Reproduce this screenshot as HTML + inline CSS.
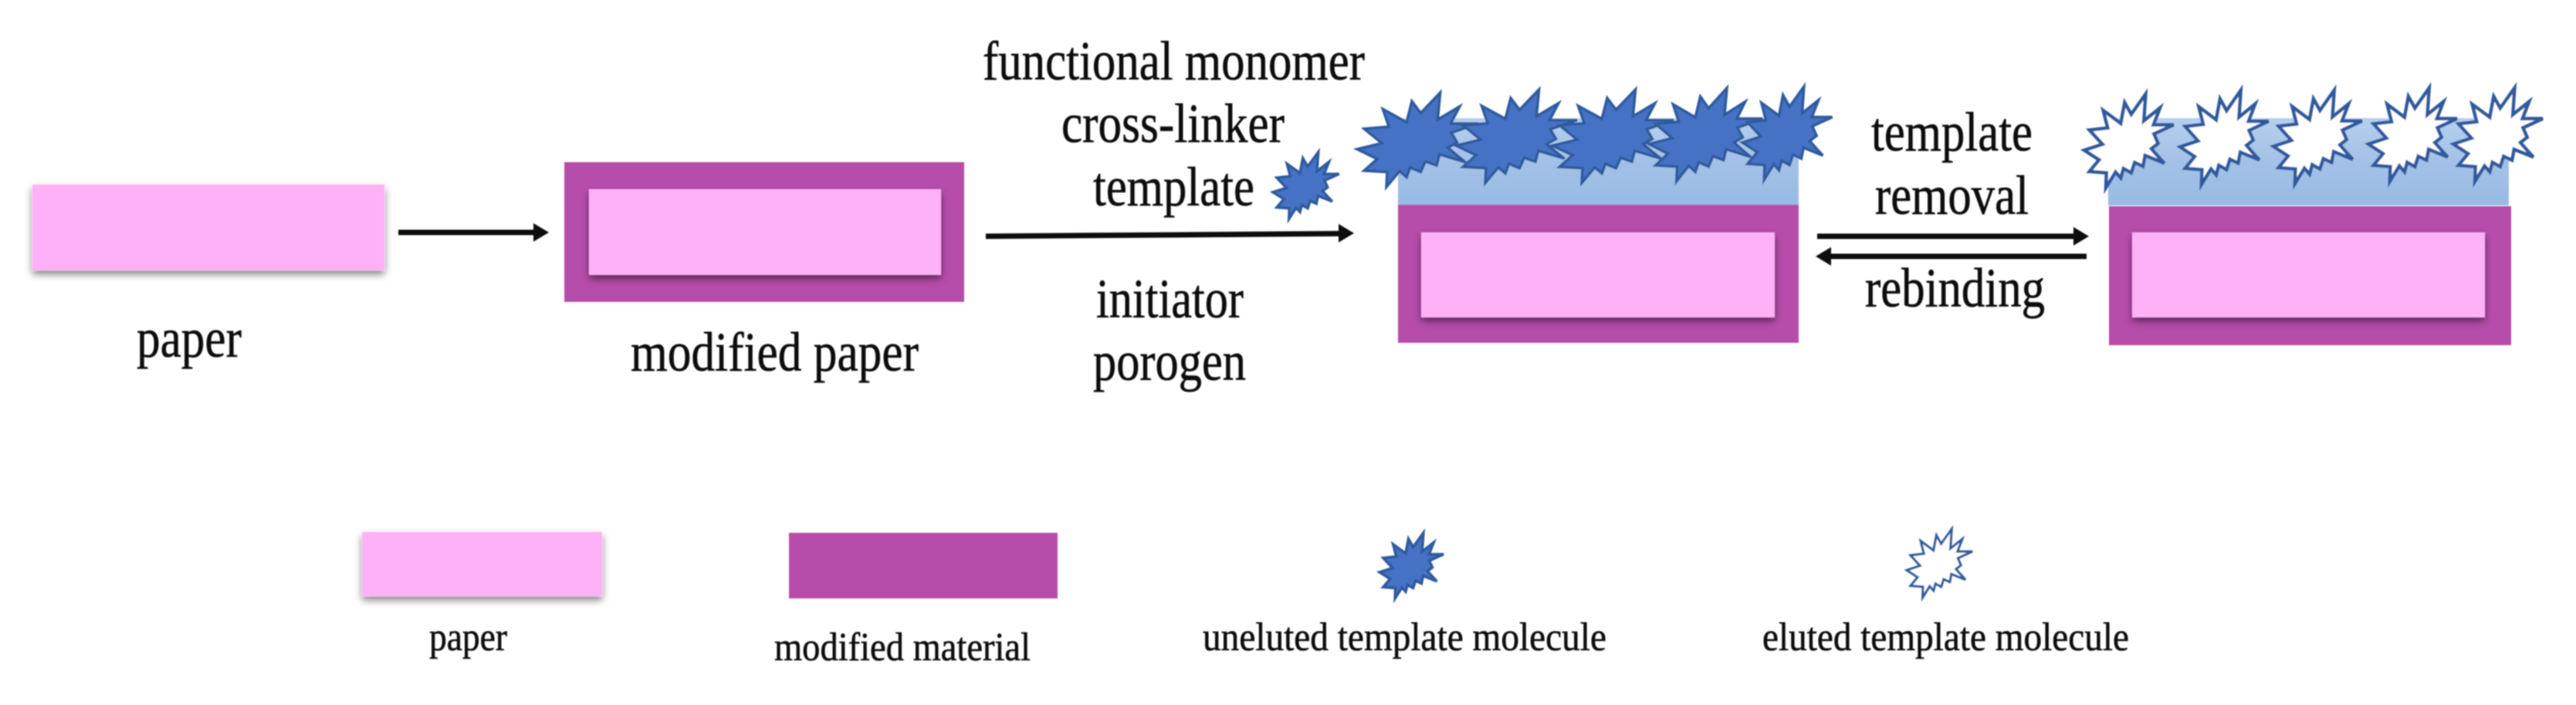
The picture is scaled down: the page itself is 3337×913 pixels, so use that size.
<!DOCTYPE html>
<html><head><meta charset="utf-8"><style>
html,body{margin:0;padding:0;background:#fff}
svg{display:block}
text{font-family:"Liberation Serif",serif;fill:#111;stroke:#111;stroke-width:.6px;text-anchor:start}
.t{font-size:72px}
.l{font-size:52px}
</style></head><body>
<svg xmlns="http://www.w3.org/2000/svg" width="3337" height="913" viewBox="0 0 3337 913">
<defs>
<polygon id="s" vector-effect="non-scaling-stroke" stroke-linejoin="miter" points="235,0 228,103 290,53 265,118 343,118 267,153 283,190 257,210 283,240 307,266 233,236 225,278 193,263 180,303 150,286 140,323 120,300 83,360 85,303 20,298 57,253 0,216 70,193 20,138 90,130 73,63 140,113 155,33 180,78"/>
<filter id="b" x="-5%" y="-5%" width="110%" height="110%"><feGaussianBlur stdDeviation="0.9"/></filter>
<filter id="sh" x="-10%" y="-20%" width="120%" height="150%"><feDropShadow dx="0" dy="5" stdDeviation="5" flood-color="#000" flood-opacity=".5"/></filter>
<linearGradient id="g" x1="0" y1="0" x2="0" y2="1"><stop offset="0" stop-color="#b5d0ee"/><stop offset=".5" stop-color="#a3c1e6"/><stop offset="1" stop-color="#97bbe4"/></linearGradient>
</defs>
<g filter="url(#b)">
<!-- paper -->
<rect x="42" y="239" width="456" height="111" fill="#feb1f6" filter="url(#sh)"/>
<!-- modified paper -->
<rect x="731" y="210" width="518" height="181" fill="#b74dab"/>
<rect x="763" y="245" width="456" height="111" fill="#feb1f6" filter="url(#sh)"/>
<!-- arrow 1 -->
<path d="M516 301H695" stroke="#111" stroke-width="7" fill="none"/>
<polygon points="691,289 711,301 691,313" fill="#111"/>
<!-- arrow 2 -->
<path d="M1277 306L1738 302.5" stroke="#111" stroke-width="7" fill="none"/>
<polygon points="1734,290 1754,302 1734,314" fill="#111"/>
<!-- third stage -->
<rect x="1811" y="153" width="519" height="112" fill="url(#g)"/>
<rect x="1811" y="265" width="519" height="179" fill="#b74dab"/>
<rect x="1841" y="301" width="458" height="110" fill="#feb1f6" filter="url(#sh)"/>
<g fill="#4472c4" stroke="#2f5a9e" stroke-width="3.5">
<use href="#s" transform="translate(1758 120) scale(.458 .339)"/>
<use href="#s" transform="translate(1886 116) scale(.458 .336)"/>
<use href="#s" transform="translate(2011 116) scale(.458 .336)"/>
<use href="#s" transform="translate(2136 114) scale(.43 .336)"/>
<use href="#s" transform="translate(2257 112) scale(.34 .336)"/>
<use href="#s" transform="translate(1649 197) scale(.25 .24)"/>
<use href="#s" transform="translate(1787 690) scale(.242 .236)"/>
</g>
<!-- arrows between -->
<path d="M2354 306H2690" stroke="#111" stroke-width="7" fill="none"/>
<polygon points="2686,294 2706,306 2686,318" fill="#111"/>
<path d="M2703 332H2368" stroke="#111" stroke-width="7" fill="none"/>
<polygon points="2372,320 2352,332 2372,344" fill="#111"/>
<!-- fourth stage -->
<rect x="2731" y="153" width="519" height="113" fill="url(#g)"/>
<rect x="2732" y="267" width="521" height="180" fill="#b74dab"/>
<rect x="2762" y="301" width="457" height="110" fill="#feb1f6" filter="url(#sh)"/>
<g fill="#fff" stroke="#2f5a9e" stroke-width="4.5">
<use href="#s" transform="translate(2700 122) scale(.338 .336)"/>
<use href="#s" transform="translate(2824 117) scale(.335 .339)"/>
<use href="#s" transform="translate(2945 117) scale(.335 .336)"/>
<use href="#s" transform="translate(3068 114) scale(.335 .336)"/>
<use href="#s" transform="translate(3178 114) scale(.338 .336)"/>
</g>
<g fill="#fff" stroke="#2f5a9e" stroke-width="3">
<use href="#s" transform="translate(2470 685) scale(.248 .247)"/>
</g>
<!-- legend -->
<rect x="469" y="689" width="311" height="83" fill="#feb1f6" filter="url(#sh)"/>
<rect x="1022" y="690" width="348" height="85" fill="#b74dab"/>
<!-- labels -->
<text class="t" x="177" y="462" textLength="136" lengthAdjust="spacingAndGlyphs">paper</text>
<text class="t" x="817" y="480" textLength="373" lengthAdjust="spacingAndGlyphs">modified paper</text>
<text class="t" x="1273" y="103" textLength="495" lengthAdjust="spacingAndGlyphs">functional monomer</text>
<text class="t" x="1375" y="184" textLength="289" lengthAdjust="spacingAndGlyphs">cross-linker</text>
<text class="t" x="1416" y="266" textLength="209" lengthAdjust="spacingAndGlyphs">template</text>
<text class="t" x="1420" y="411" textLength="191" lengthAdjust="spacingAndGlyphs">initiator</text>
<text class="t" x="1416" y="492" textLength="198" lengthAdjust="spacingAndGlyphs">porogen</text>
<text class="t" x="2424" y="195" textLength="209" lengthAdjust="spacingAndGlyphs">template</text>
<text class="t" x="2429" y="277" textLength="199" lengthAdjust="spacingAndGlyphs">removal</text>
<text class="t" x="2416" y="397" textLength="233" lengthAdjust="spacingAndGlyphs">rebinding</text>
<text class="l" x="556" y="842" textLength="101" lengthAdjust="spacingAndGlyphs">paper</text>
<text class="l" x="1003" y="855" textLength="332" lengthAdjust="spacingAndGlyphs">modified material</text>
<text class="l" x="1558" y="842" textLength="523" lengthAdjust="spacingAndGlyphs">uneluted template molecule</text>
<text class="l" x="2283" y="842" textLength="475" lengthAdjust="spacingAndGlyphs">eluted template molecule</text>
</g>
</svg>
</body></html>
